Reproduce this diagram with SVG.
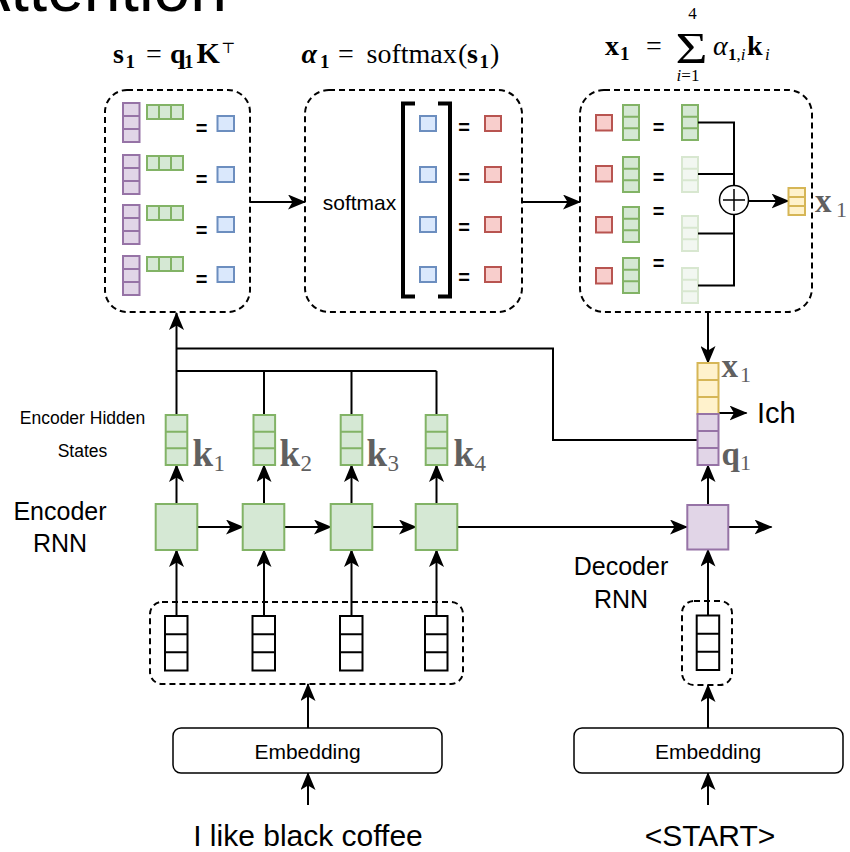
<svg xmlns="http://www.w3.org/2000/svg" xmlns:xlink="http://www.w3.org/1999/xlink" width="850" height="852" viewBox="0 0 850 852">
<style>
.pu{fill:#e1d5e7;stroke:#9673a6;stroke-width:2}
.gr{fill:#d5e8d4;stroke:#82b366;stroke-width:2}
.bl{fill:#dae8fc;stroke:#6c8ebf;stroke-width:2}
.rd{fill:#f8cecc;stroke:#b85450;stroke-width:2}
.ye{fill:#fff2cc;stroke:#d6b656;stroke-width:2}
.wh{fill:#fff;stroke:#000;stroke-width:2}
.dash{fill:none;stroke:#000;stroke-width:2;stroke-dasharray:6 4}
.ln{fill:none;stroke:#000;stroke-width:2}
.ar{marker-end:url(#ah)}
.sans{font-family:"Liberation Sans",Arial,sans-serif;fill:#000}
.eq{font-family:"Liberation Sans",Arial,sans-serif;font-weight:bold;text-anchor:middle}
.m{font-family:"Liberation Serif","DejaVu Serif",serif;fill:#000}
.mb{font-weight:bold}
.lab{font-family:"Liberation Serif","DejaVu Serif",serif;fill:#606060}
.faded{opacity:0.3}
</style>
<defs>
<marker id="ah" markerWidth="18" markerHeight="15" refX="17" refY="7.5" orient="auto" markerUnits="userSpaceOnUse">
<path d="M0,0 L18,7.5 L0,15 L4.5,7.5 Z" fill="#000"/>
</marker>
<g id="pv"><rect class="pu" width="16.5" height="39"/><path class="pu" d="M0,13H16.5M0,26H16.5"/></g>
<g id="gh"><rect class="gr" width="36" height="14"/><path class="gr" d="M12,0V14M24,0V14"/></g>
<g id="gv"><rect class="gr" width="16" height="35"/><path class="gr" d="M0,11.7H16M0,23.3H16"/></g>
<g id="kv"><rect class="gr" width="21.6" height="50"/><path class="gr" d="M0,16.7H21.6M0,33.3H21.6"/></g>
<g id="iv"><rect class="wh" width="22.5" height="54.5"/><path class="wh" d="M0,18.2H22.5M0,36.3H22.5"/></g>
</defs>

<text x="227" y="11" class="sans" font-size="66" text-anchor="end">Attention</text>

<!-- formulas -->
<g id="formula-s">
<text class="m mb" x="113" y="63" font-size="28">s</text>
<text class="m mb" x="125.5" y="68" font-size="19">1</text>
<text class="m" x="146" y="63" font-size="28">=</text>
<text class="m mb" x="170" y="63" font-size="28">q</text>
<text class="m mb" x="184" y="68" font-size="19">1</text>
<text class="m mb" x="196.5" y="63" font-size="30">K</text>
<text class="m" x="221" y="53" font-size="15">⊤</text>
</g>
<g id="formula-alpha">
<text class="m mb" x="301.5" y="63" font-size="28" font-style="italic">α</text>
<text class="m mb" x="320" y="68" font-size="19">1</text>
<text class="m" x="338" y="63" font-size="28">=</text>
<text class="m" x="366.5" y="63" font-size="28">softmax</text>
<text class="m" x="458" y="63" font-size="28">(</text>
<text class="m mb" x="467" y="63" font-size="28">s</text>
<text class="m mb" x="479.5" y="68" font-size="19">1</text>
<text class="m" x="490" y="63" font-size="28">)</text>
</g>
<g id="formula-x">
<text class="m mb" x="605" y="55" font-size="28">x</text>
<text class="m mb" x="620" y="60" font-size="19">1</text>
<text class="m" x="646" y="55" font-size="28">=</text>
<text class="m" transform="translate(691.5,63) scale(1.25,1)" font-size="44" text-anchor="middle">Σ</text>
<text class="m" x="692.5" y="19" font-size="17" text-anchor="middle">4</text>
<text class="m" x="688" y="81" font-size="17" text-anchor="middle"><tspan font-style="italic">i</tspan>=1</text>
<text class="m" x="713" y="55" font-size="28" font-style="italic">α</text>
<text class="m" x="728" y="60" font-size="17"><tspan font-weight="bold">1</tspan>,<tspan font-style="italic">i</tspan></text>
<text class="m mb" x="747" y="55" font-size="28">k</text>
<text class="m" x="765" y="60" font-size="17" font-style="italic">i</text>
</g>

<!-- box 1: scores -->
<g id="scores-box">
<rect class="dash" x="105" y="90" width="145" height="222" rx="22"/>
<use xlink:href="#pv" x="123" y="103"/><use xlink:href="#gh" x="147" y="105"/>
<use xlink:href="#pv" x="123" y="155"/><use xlink:href="#gh" x="147" y="156"/>
<use xlink:href="#pv" x="123" y="205"/><use xlink:href="#gh" x="147" y="206"/>
<use xlink:href="#pv" x="123" y="256"/><use xlink:href="#gh" x="147" y="257"/>
<text class="eq" x="201.5" y="135" font-size="20">=</text>
<text class="eq" x="201.5" y="186" font-size="20">=</text>
<text class="eq" x="201.5" y="237" font-size="20">=</text>
<text class="eq" x="201.5" y="286" font-size="20">=</text>
<rect class="bl" x="217.5" y="116" width="16.5" height="15"/>
<rect class="bl" x="217.5" y="167" width="16.5" height="15"/>
<rect class="bl" x="217.5" y="217" width="16.5" height="15"/>
<rect class="bl" x="217.5" y="267" width="16.5" height="15"/>
</g>

<!-- box 2: softmax -->
<g id="softmax-box">
<rect class="dash" x="305" y="90" width="217" height="222" rx="24"/>
<text class="sans" x="359.5" y="210" font-size="21" text-anchor="middle">softmax</text>
<path d="M415,103.5H403V296.5H415" fill="none" stroke="#000" stroke-width="4"/>
<path d="M438,103.5H450V296.5H438" fill="none" stroke="#000" stroke-width="4"/>
<rect class="bl" x="420" y="116" width="16" height="15"/>
<rect class="bl" x="420" y="167" width="16" height="15"/>
<rect class="bl" x="420" y="217" width="16" height="15"/>
<rect class="bl" x="420" y="267" width="16" height="15"/>
<text class="eq" x="464" y="133.5" font-size="20">=</text>
<text class="eq" x="464" y="183.5" font-size="20">=</text>
<text class="eq" x="464" y="233.5" font-size="20">=</text>
<text class="eq" x="464" y="283.5" font-size="20">=</text>
<rect class="rd" x="485" y="116" width="16" height="15"/>
<rect class="rd" x="485" y="167" width="16" height="15"/>
<rect class="rd" x="485" y="217" width="16" height="15"/>
<rect class="rd" x="485" y="267" width="16" height="15"/>
</g>

<!-- box 3: weighted sum -->
<g id="sum-box">
<rect class="dash" x="580" y="90" width="232" height="222" rx="24"/>
<rect class="rd" x="596" y="115" width="16" height="15.5"/>
<rect class="rd" x="596" y="166" width="16" height="15.5"/>
<rect class="rd" x="596" y="217" width="16" height="15.5"/>
<rect class="rd" x="596" y="268" width="16" height="15.5"/>
<use xlink:href="#gv" x="623" y="105"/>
<use xlink:href="#gv" x="623" y="157"/>
<use xlink:href="#gv" x="623" y="207"/>
<use xlink:href="#gv" x="623" y="258"/>
<text class="eq" x="658.5" y="133.5" font-size="20">=</text>
<text class="eq" x="658.5" y="183.5" font-size="20">=</text>
<text class="eq" x="658.5" y="218" font-size="20">=</text>
<text class="eq" x="658.5" y="270" font-size="20">=</text>
<use xlink:href="#gv" x="682" y="105"/>
<use xlink:href="#gv" x="682" y="157" class="faded"/>
<use xlink:href="#gv" x="682" y="216" class="faded"/>
<use xlink:href="#gv" x="682" y="268" class="faded"/>
<path class="ln" d="M698,122.5H734V185.5M698,174H734M698,233.5H734M698,285.5H734V214.5"/>
<circle cx="734" cy="200" r="14.5" fill="#fff" stroke="#000" stroke-width="1.5"/>
<path d="M723,200H745M734,189V211" stroke="#000" stroke-width="1.5"/>
<path class="ln ar" d="M748.5,201H788.5"/>
<rect class="ye" x="788.5" y="188" width="16.5" height="27"/>
<path class="ye" d="M788.5,197H805M788.5,206H805"/>
<text class="lab" x="815" y="212" font-size="33" font-weight="bold">x</text>
<text class="lab" x="836" y="217" font-size="22">1</text>
</g>

<!-- connectors -->
<g id="connectors">
<path class="ln ar" d="M250,202H305"/>
<path class="ln ar" d="M522,202H580"/>
<path class="ln ar" d="M708,312V363"/>
<path class="ln ar" d="M176.5,415V313"/>
<path class="ln" d="M176.5,371H436.5M264,371V415M351.5,371V415M436.5,371V415"/>
<path class="ln" d="M697.5,440H553V348.5H176.5"/>
<path class="ln ar" d="M718.5,413H746.5"/>
<path class="ln ar" d="M176.5,504V465"/>
<path class="ln ar" d="M264,504V465"/>
<path class="ln ar" d="M351.5,504V465"/>
<path class="ln ar" d="M436.5,504V465"/>
<path class="ln ar" d="M197.5,527H243"/>
<path class="ln ar" d="M284.5,527H331"/>
<path class="ln ar" d="M372.5,527H416"/>
<path class="ln ar" d="M457.5,527H687"/>
<path class="ln ar" d="M728.5,527H771.5"/>
<path class="ln ar" d="M708,505V465"/>
<path class="ln ar" d="M176.5,616V550"/>
<path class="ln ar" d="M264,616V550"/>
<path class="ln ar" d="M351.5,616V550"/>
<path class="ln ar" d="M436.5,616V550"/>
<path class="ln ar" d="M708,616V549.5"/>
<path class="ln ar" d="M308,728V684"/>
<path class="ln ar" d="M708,728V685"/>
<path class="ln ar" d="M308,805V773"/>
<path class="ln ar" d="M708,805V773"/>
</g>

<!-- encoder hidden states -->
<g id="hidden-states">
<text class="sans" x="82.5" y="424" font-size="17.5" text-anchor="middle">Encoder Hidden</text>
<text class="sans" x="82.5" y="457" font-size="17.5" text-anchor="middle">States</text>
<use xlink:href="#kv" x="165.7" y="415"/>
<use xlink:href="#kv" x="253.5" y="415"/>
<use xlink:href="#kv" x="340.7" y="415"/>
<use xlink:href="#kv" x="425.7" y="415"/>
<text class="lab" x="192.5" y="466" font-size="37" font-weight="bold">k</text>
<text class="lab" x="213.5" y="471" font-size="23">1</text>
<text class="lab" x="279.5" y="466" font-size="37" font-weight="bold">k</text>
<text class="lab" x="300.5" y="471" font-size="23">2</text>
<text class="lab" x="366.5" y="466" font-size="37" font-weight="bold">k</text>
<text class="lab" x="387.5" y="471" font-size="23">3</text>
<text class="lab" x="453.5" y="466" font-size="37" font-weight="bold">k</text>
<text class="lab" x="474.5" y="471" font-size="23">4</text>
</g>

<!-- encoder RNN -->
<g id="encoder-rnn">
<text class="sans" x="60" y="520" font-size="25" text-anchor="middle">Encoder</text>
<text class="sans" x="60" y="552" font-size="25" text-anchor="middle">RNN</text>
<rect class="gr" x="155.7" y="504" width="41.6" height="46"/>
<rect class="gr" x="242.7" y="504" width="41.6" height="46"/>
<rect class="gr" x="330.7" y="504" width="41.6" height="46"/>
<rect class="gr" x="415.7" y="504" width="41.6" height="46"/>
</g>

<!-- encoder inputs -->
<g id="encoder-inputs">
<rect class="dash" x="150" y="602" width="313" height="82" rx="12"/>
<use xlink:href="#iv" x="165" y="616"/>
<use xlink:href="#iv" x="252.5" y="616"/>
<use xlink:href="#iv" x="340" y="616"/>
<use xlink:href="#iv" x="425" y="616"/>
</g>

<g id="encoder-embedding">
<rect x="173" y="728" width="269" height="45" rx="8" fill="#fff" stroke="#000" stroke-width="1.5"/>
<text class="sans" x="307.5" y="759" font-size="21" text-anchor="middle">Embedding</text>
<text class="sans" x="308" y="846" font-size="30" text-anchor="middle">I like black coffee</text>
</g>

<!-- decoder -->
<g id="decoder-states">
<rect class="ye" x="697.5" y="363" width="21" height="51"/>
<path class="ye" d="M697.5,380H718.5M697.5,397H718.5"/>
<rect class="pu" x="697.5" y="414" width="21" height="51"/>
<path class="pu" d="M697.5,431H718.5M697.5,448H718.5"/>
<text class="lab" x="721.5" y="377" font-size="33" font-weight="bold">x</text>
<text class="lab" x="740" y="382" font-size="22">1</text>
<text class="lab" x="721.5" y="465" font-size="33" font-weight="bold">q</text>
<text class="lab" x="740" y="470" font-size="22">1</text>
<text class="sans" x="757" y="423" font-size="29">Ich</text>
</g>

<g id="decoder-rnn">
<rect class="pu" x="687.3" y="505" width="41" height="44.5"/>
<text class="sans" x="621" y="575" font-size="25" text-anchor="middle">Decoder</text>
<text class="sans" x="621" y="608" font-size="25" text-anchor="middle">RNN</text>
</g>

<g id="decoder-input">
<rect class="dash" x="682" y="601" width="50" height="84" rx="12"/>
<use xlink:href="#iv" x="696.7" y="615.5"/>
</g>

<g id="decoder-embedding">
<rect x="574" y="728" width="269" height="45" rx="8" fill="#fff" stroke="#000" stroke-width="1.5"/>
<text class="sans" x="708" y="759" font-size="21" text-anchor="middle">Embedding</text>
<text class="sans" x="710" y="846" font-size="30" text-anchor="middle">&lt;START&gt;</text>
</g>
</svg>
